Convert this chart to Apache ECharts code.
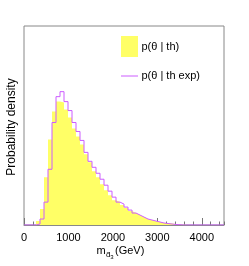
<!DOCTYPE html>
<html>
<head>
<meta charset="utf-8">
<script src="https://cdn.jsdelivr.net/npm/echarts@6/dist/echarts.min.js"></script>
<style>html,body{margin:0;padding:0;background:#fff}#c{width:249px;height:266px}</style>
</head>
<body>
<div id="c"></div>
<script>
// Histogram: 50 bins of 90 GeV from 0 to 4500 GeV
const binStart = 0;
const binWidth = 90;
const thValues = [0,0,0,4,16,48,86,114,124,123,116,108,97,89,81,71,63,54,48,41,35,30,25,23,20,17,14,12,10,8,6,5,4,3,2,2,1.5,1,0.5,0.3,0,0,0,0,0,0,0,0,0,0];
const thExpValues = [0,0,0,1,6,23,56,103,129,134,124,115,103,94,85,73,64,58,52,46,40,34,28,23,21,18,15,12,10,8,6,5,4,3,2,1.5,1,0.5,0.3,0,0,0,0,0,0,0,0,0,0,0];
const xTickLabels = ['0','1000','2000','3000','4000'];
const seriesNames = ['p(θ | th)', 'p(θ | th exp)'];

function stepPoints(vals){
  const pts = vals.map((v,i)=>[binStart + i*binWidth, v]);
  pts.push([binStart + vals.length*binWidth, vals[vals.length-1]]);
  return pts;
}

const FONT = '"Liberation Sans", Arial, Helvetica, sans-serif';
const YELLOW = '#ffff66';
const VIOLET = '#cc5cff';

const chart = echarts.init(document.getElementById('c'), null, {renderer:'canvas'});
chart.setOption({
  animation: false,
  grid: {left: 24, right: 25, top: 26, bottom: 41, show: true, borderColor: '#888', borderWidth: 1, backgroundColor: 'transparent'},
  xAxis: [
    {type:'value', min:0, max:4500, interval:1000,
     axisLine:{show:true, lineStyle:{color:'#888', width:1}},
     axisTick:{show:true, inside:true, length:7, lineStyle:{color:'#777'}},
     splitLine:{show:false},
     axisLabel:{show:true, color:'#000', fontSize:11, fontFamily:FONT, margin:7, showMaxLabel:false,
       formatter: v => { const i = Math.round(v/1000); return (v%1000===0 && i < xTickLabels.length) ? xTickLabels[i] : ''; }}
    },
    {type:'value', min:0, max:4500, interval:200, position:'bottom',
     axisLine:{show:false}, axisLabel:{show:false}, splitLine:{show:false},
     axisTick:{show:true, inside:true, length:3.5, lineStyle:{color:'#777'}}
    }
  ],
  yAxis: {type:'value', min:0, max:200, show:false},
  series: [
    {name: seriesNames[0], type:'line', step:'end', data: stepPoints(thValues), symbol:'none',
     lineStyle:{width:0, color:YELLOW}, areaStyle:{color:YELLOW, opacity:1}, z:2},
    {name: seriesNames[1], type:'line', step:'end', data: stepPoints(thExpValues), symbol:'none',
     lineStyle:{width:1, color:VIOLET}, z:3}
  ],
  graphic: [
    {type:'text', x:12, y:127, rotation:Math.PI/2,
     style:{text:'Probability density', font:'12px '+FONT, fill:'#000', textAlign:'center', textVerticalAlign:'middle'}},
    {type:'text', x:96.5, y:251, style:{text:'m', font:'11px '+FONT, fill:'#000', textAlign:'left', textVerticalAlign:'middle'}},
    {type:'text', x:106, y:255, style:{text:'d\u0303', font:'8px '+FONT, fill:'#000', textAlign:'left', textVerticalAlign:'middle'}},
    {type:'text', x:110.3, y:257.5, style:{text:'3', font:'6px '+FONT, fill:'#000', textAlign:'left', textVerticalAlign:'middle'}},
    {type:'text', x:115, y:251, style:{text:'(GeV)', font:'11px '+FONT, fill:'#000', textAlign:'left', textVerticalAlign:'middle'}},
    {type:'rect', shape:{x:121, y:36, width:17, height:21}, style:{fill:YELLOW}},
    {type:'text', x:141.5, y:46.5, style:{text:seriesNames[0], font:'11px '+FONT, fill:'#000', textAlign:'left', textVerticalAlign:'middle'}},
    {type:'line', shape:{x1:121, y1:76, x2:138, y2:76}, style:{stroke:VIOLET, lineWidth:1}},
    {type:'text', x:141.5, y:76, style:{text:seriesNames[1], font:'11px '+FONT, fill:'#000', textAlign:'left', textVerticalAlign:'middle'}}
  ]
});
</script>
</body>
</html>
